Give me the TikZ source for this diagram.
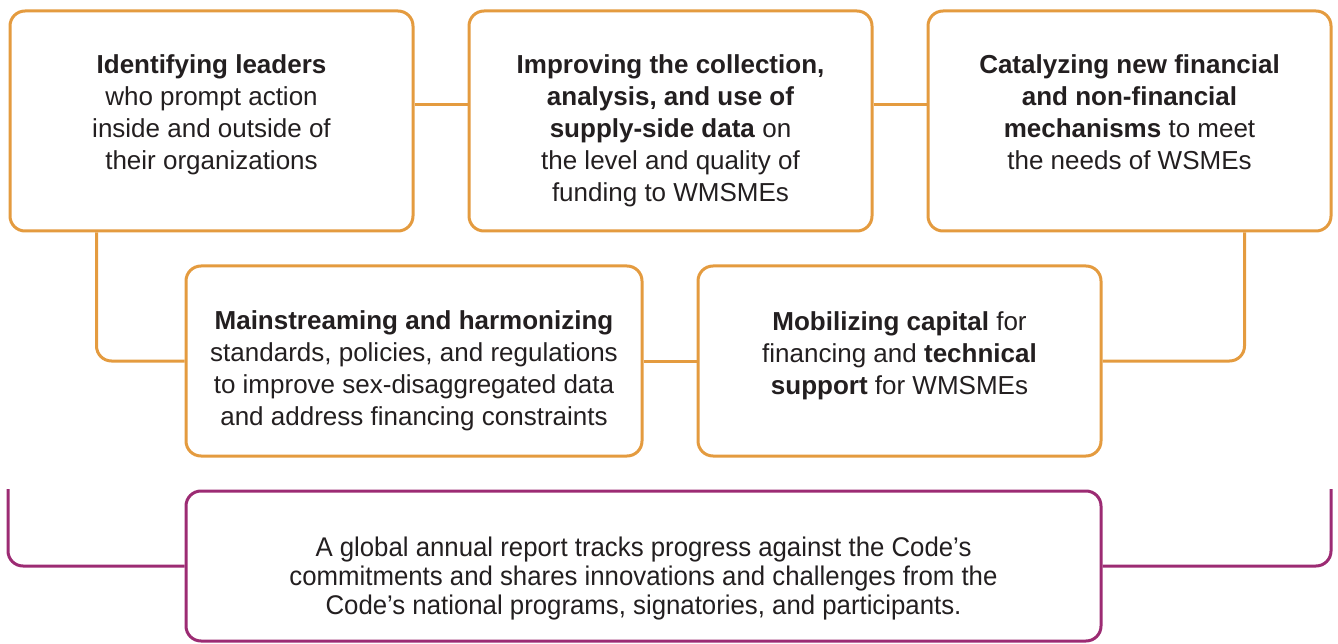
\documentclass[tikz,border=0pt]{standalone}
\usepackage{fontspec}
\setmainfont{Liberation Sans}
\newfontfamily\condfont[FakeStretch=0.955]{Liberation Sans}
\definecolor{orng}{HTML}{E49B3F}
\definecolor{plum}{HTML}{9C2B73}
\definecolor{ink}{HTML}{231F20}
\begin{document}
\begin{tikzpicture}[x=1pt,y=-1pt,
  box/.style={draw=orng,line width=3pt,rounded corners=15pt,rectangle,inner sep=0pt,fill=white},
  pbox/.style={draw=plum,line width=3pt,rounded corners=15pt,rectangle,inner sep=0pt,fill=white},
  conn/.style={draw=orng,line width=3pt,rounded corners=15pt},
  pconn/.style={draw=plum,line width=3pt,rounded corners=15pt},
  txt/.style={inner sep=0pt,align=center,text=ink,font=\fontsize{26}{32}\selectfont},
  ptxt/.style={inner sep=0pt,align=center,text=ink,font=\condfont\fontsize{27}{29}\selectfont}]
\useasboundingbox (0,0) rectangle (1338,644);
\node[box,minimum width=403pt,minimum height=220pt] (b1) at (211.5,121) {};
\node[box,minimum width=403pt,minimum height=220pt] (b2) at (670.5,121) {};
\node[box,minimum width=403pt,minimum height=220pt] (b3) at (1129.5,121) {};
\node[box,minimum width=456pt,minimum height=190pt] (b4) at (414,361) {};
\node[box,minimum width=403pt,minimum height=190pt] (b5) at (899.5,361) {};
\node[pbox,minimum width=915pt,minimum height=150pt] (b6) at (643.5,566) {};
\coordinate (pl) at (8,489);
\coordinate (pr) at (1331,489);
\draw[conn] ([yshift=16pt]b1.east) -- ([yshift=16pt]b2.west);
\draw[conn] ([yshift=16pt]b2.east) -- ([yshift=16pt]b3.west);
\draw[conn] (b4.east) -- (b5.west);
\draw[conn] ([xshift=88pt]b1.south west) |- (b4.west);
\draw[conn] ([xshift=-88pt]b3.south east) |- (b5.east);
\draw[pconn] (pl) |- (b6.west);
\draw[pconn] (pr) |- (b6.east);
\node[txt] (t1) at (211.5,115) {\textbf{Identifying leaders}\\who prompt action\\inside and outside of\\their organizations};
\node[txt] (t2) at (670.5,131) {\textbf{Improving the collection,}\\\textbf{analysis, and use of}\\\textbf{supply-side data} on\\the level and quality of\\funding to WMSMEs};
\node[txt] (t3) at (1129.5,112) {\textbf{Catalyzing new financial}\\\textbf{and non-financial}\\\textbf{mechanisms} to meet\\the needs of WSMEs};
\node[txt] (t4) at (414,371) {\textbf{Mainstreaming and harmonizing}\\standards, policies, and regulations\\to improve sex-disaggregated data\\and address financing constraints};
\node[txt] (t5) at (899.5,356) {\textbf{Mobilizing capital} for\\financing and \textbf{technical}\\\textbf{support} for WMSMEs};
\node[ptxt] (t6) at (643.5,579) {A global annual report tracks progress against the Code’s\\commitments and shares innovations and challenges from the\\Code’s national programs, signatories, and participants.};
\end{tikzpicture}
\end{document}
